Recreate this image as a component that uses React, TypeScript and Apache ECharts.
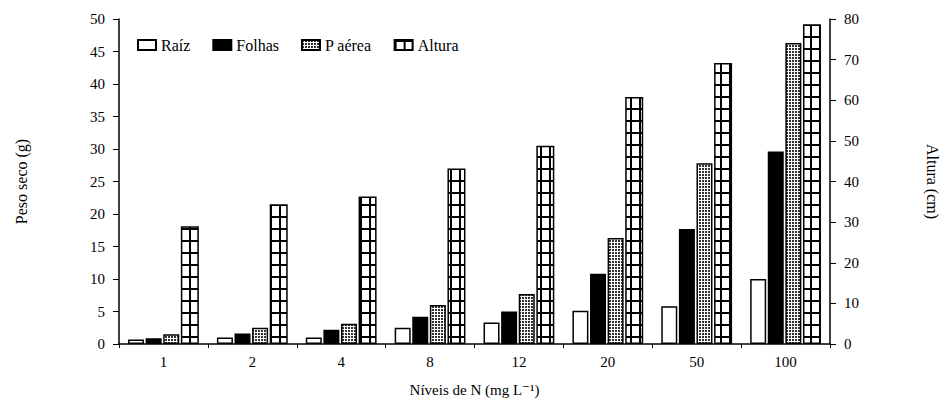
import React, { useEffect, useRef } from "react";
import * as echarts from "echarts";

const categories = ["1", "2", "4", "8", "12", "20", "50", "100"];
const raiz = [0.7, 1.0, 1.0, 2.5, 3.3, 5.1, 5.8, 10.0];
const folhas = [0.9, 1.6, 2.2, 4.2, 5.0, 10.8, 17.7, 29.6];
const pAerea = [1.5, 2.5, 3.1, 6.0, 7.7, 16.3, 27.8, 46.3];
const altura = [29.0, 34.4, 36.3, 43.2, 48.8, 60.8, 69.2, 78.7];
const leftTicks = { min: 0, max: 50, interval: 5 };
const rightTicks = { min: 0, max: 80, interval: 10 };

function makeDots(): HTMLCanvasElement {
  const c = document.createElement("canvas");
  c.width = 3;
  c.height = 3;
  const ctx = c.getContext("2d")!;
  ctx.fillStyle = "#ffffff";
  ctx.fillRect(0, 0, 3, 3);
  ctx.fillStyle = "#333333";
  ctx.fillRect(0, 0, 2, 2);
  return c;
}

function makeGrid(): HTMLCanvasElement {
  const c = document.createElement("canvas");
  c.width = 9;
  c.height = 12;
  const ctx = c.getContext("2d")!;
  ctx.fillStyle = "#ffffff";
  ctx.fillRect(0, 0, 9, 12);
  ctx.fillStyle = "#000000";
  ctx.fillRect(0, 0, 9, 2);
  ctx.fillRect(0, 0, 2, 12);
  return c;
}

export default function App() {
  const ref = useRef<HTMLDivElement>(null);
  useEffect(() => {
    if (!ref.current) return;
    const chart = echarts.init(ref.current, undefined, { renderer: "svg" });
    const font = "'Liberation Serif', 'DejaVu Serif', serif";
    const dots = { image: makeDots(), repeat: "repeat" } as any;
    const grid = { image: makeGrid(), repeat: "repeat" } as any;
    const border = { borderColor: "#000", borderWidth: 1.5 };
    chart.setOption({
      animation: false,
      backgroundColor: "#ffffff",
      textStyle: { fontFamily: font, color: "#000" },
      grid: { left: 119, right: 112, top: 19, bottom: 61 },
      legend: {
        left: 132,
        top: 32,
        itemWidth: 18,
        itemHeight: 10,
        itemGap: 22,
        textStyle: { fontFamily: font, fontSize: 16, color: "#000" },
        data: [
          { name: "Raíz", icon: "rect" },
          { name: "Folhas", icon: "rect" },
          { name: "P aérea", icon: "rect" },
          { name: "Altura", icon: "rect" },
        ],
      },
      xAxis: {
        type: "category",
        data: categories,
        name: "Níveis de N (mg L⁻¹)",
        nameLocation: "middle",
        nameGap: 38,
        nameTextStyle: { fontFamily: font, fontSize: 15, color: "#000" },
        axisLine: { lineStyle: { color: "#000", width: 1.5 } },
        axisTick: { show: true, length: 4, lineStyle: { color: "#000" } },
        axisLabel: { fontFamily: font, fontSize: 15, color: "#000", margin: 10 },
      },
      yAxis: [
        {
          type: "value",
          ...leftTicks,
          name: "Peso seco (g)",
          nameLocation: "middle",
          nameGap: 90,
          nameTextStyle: { fontFamily: font, fontSize: 16, color: "#000" },
          axisLine: { show: true, lineStyle: { color: "#000", width: 1.5 } },
          axisTick: { show: true, length: 6, lineStyle: { color: "#000" } },
          axisLabel: { fontFamily: font, fontSize: 15, color: "#000", margin: 14 },
          splitLine: { show: false },
        },
        {
          type: "value",
          ...rightTicks,
          position: "right",
          name: "Altura (cm)",
          nameLocation: "middle",
          nameGap: 94,
          nameRotate: -90,
          nameTextStyle: { fontFamily: font, fontSize: 16, color: "#000" },
          axisLine: { show: true, lineStyle: { color: "#000", width: 1.5 } },
          axisTick: { show: true, length: 6, lineStyle: { color: "#000" } },
          axisLabel: { fontFamily: font, fontSize: 15, color: "#000", margin: 14 },
          splitLine: { show: false },
        },
      ],
      series: [
        {
          name: "Raíz",
          type: "bar",
          data: raiz,
          barWidth: 16,
          barGap: "10%",
          itemStyle: { color: "#ffffff", ...border },
        },
        {
          name: "Folhas",
          type: "bar",
          data: folhas,
          barWidth: 16,
          barGap: "10%",
          itemStyle: { color: "#000000", ...border },
        },
        {
          name: "P aérea",
          type: "bar",
          data: pAerea,
          barWidth: 16,
          barGap: "10%",
          itemStyle: { color: dots, ...border },
        },
        {
          name: "Altura",
          type: "bar",
          yAxisIndex: 1,
          data: altura,
          barWidth: 18,
          barGap: "10%",
          itemStyle: { color: grid, ...border },
        },
      ],
    });
    return () => chart.dispose();
  }, []);
  return (
    <div
      ref={ref}
      style={{ position: "absolute", left: 0, top: 0, width: 948, height: 405 }}
    />
  );
}
